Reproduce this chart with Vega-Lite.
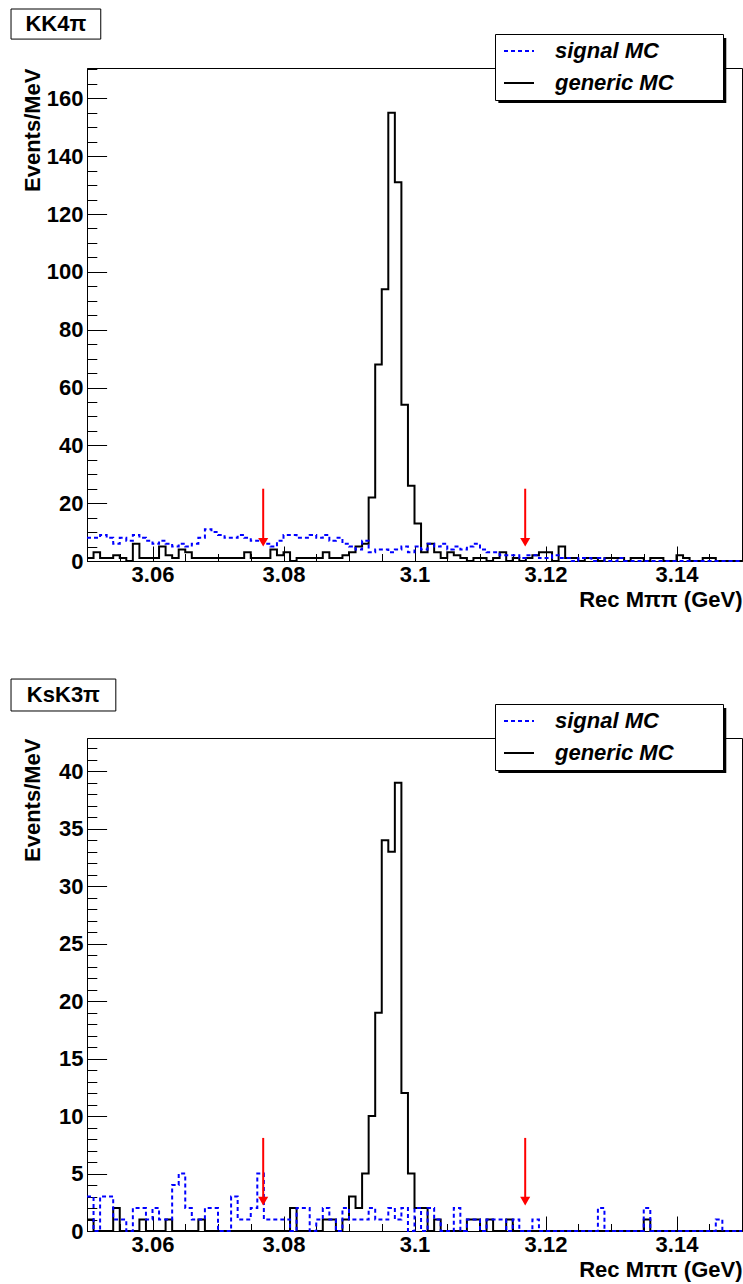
{
"$schema": "https://vega.github.io/schema/vega-lite/v6.json",
"background": "white",
"padding": {"left": 10, "top": 8, "right": 2, "bottom": 2},
"bounds": "flush",
"spacing": 177,
"config": {
  "font": "Liberation Sans",
  "view": {"stroke": "black", "strokeWidth": 1},
  "axis": {"grid": false, "labelColor": "black", "titleColor": "black", "tickColor": "black", "domainColor": "black", "domainWidth": 1, "tickWidth": 1, "labelFont": "Liberation Sans", "labelFontWeight": "bold", "labelFontSize": 22, "titleFont": "Liberation Sans", "titleFontWeight": "bold", "titleFontSize": 22, "labelFlush": false, "labelOverlap": false},
  "legend": {"orient": "none", "legendX": 408, "legendY": -34, "titleOrient": "right", "titleColor": "white", "titleFontSize": 22, "titleFont": "Liberation Sans", "titleFontWeight": "bold", "titlePadding": 6, "strokeColor": "black", "fillColor": "white", "padding": 6, "symbolOffset": 2, "symbolType": "stroke", "symbolSize": 900, "symbolStrokeWidth": 2, "labelFont": "Liberation Sans", "labelFontSize": 22, "labelFontStyle": "italic", "labelFontWeight": "bold", "labelColor": "black", "labelOffset": 20, "rowPadding": 10, "clipHeight": 22, "labelLimit": 400}
},
"resolve": {"scale": {"stroke": "independent", "strokeDash": "independent"}, "legend": {"stroke": "independent", "strokeDash": "independent"}},
"datasets": {
"topGen": [{"m":3.05,"n":1},{"m":3.051,"n":3},{"m":3.052,"n":1},{"m":3.053,"n":1},{"m":3.054,"n":2},{"m":3.055,"n":1},{"m":3.056,"n":0},{"m":3.057,"n":6},{"m":3.058,"n":1},{"m":3.059,"n":1},
{"m":3.06,"n":1},{"m":3.061,"n":5},{"m":3.062,"n":2},{"m":3.063,"n":1},{"m":3.064,"n":4},{"m":3.065,"n":3},{"m":3.066,"n":1},{"m":3.067,"n":1},{"m":3.068,"n":1},{"m":3.069,"n":1},
{"m":3.07,"n":1},{"m":3.071,"n":1},{"m":3.072,"n":1},{"m":3.073,"n":1},{"m":3.074,"n":3},{"m":3.075,"n":1},{"m":3.076,"n":1},{"m":3.077,"n":1},{"m":3.078,"n":4},{"m":3.079,"n":2},
{"m":3.08,"n":3},{"m":3.081,"n":0},{"m":3.082,"n":1},{"m":3.083,"n":1},{"m":3.084,"n":1},{"m":3.085,"n":1},{"m":3.086,"n":3},{"m":3.087,"n":1},{"m":3.088,"n":1},{"m":3.089,"n":2},
{"m":3.09,"n":3},{"m":3.091,"n":5},{"m":3.092,"n":6},{"m":3.093,"n":22},{"m":3.094,"n":68},{"m":3.095,"n":94},{"m":3.096,"n":155},{"m":3.097,"n":131},{"m":3.098,"n":54},{"m":3.099,"n":26},
{"m":3.1,"n":13},{"m":3.101,"n":3},{"m":3.102,"n":6},{"m":3.103,"n":3},{"m":3.104,"n":1},{"m":3.105,"n":3},{"m":3.106,"n":2},{"m":3.107,"n":1},{"m":3.108,"n":0},{"m":3.109,"n":1},
{"m":3.11,"n":1},{"m":3.111,"n":0},{"m":3.112,"n":1},{"m":3.113,"n":3},{"m":3.114,"n":0},{"m":3.115,"n":1},{"m":3.116,"n":0},{"m":3.117,"n":1},{"m":3.118,"n":2},{"m":3.119,"n":3},
{"m":3.12,"n":3},{"m":3.121,"n":0},{"m":3.122,"n":5},{"m":3.123,"n":1},{"m":3.124,"n":1},{"m":3.125,"n":0},{"m":3.126,"n":1},{"m":3.127,"n":1},{"m":3.128,"n":0},{"m":3.129,"n":1},
{"m":3.13,"n":1},{"m":3.131,"n":1},{"m":3.132,"n":0},{"m":3.133,"n":1},{"m":3.134,"n":1},{"m":3.135,"n":0},{"m":3.136,"n":1},{"m":3.137,"n":1},{"m":3.138,"n":0},{"m":3.139,"n":0},
{"m":3.14,"n":2},{"m":3.141,"n":1},{"m":3.142,"n":0},{"m":3.143,"n":0},{"m":3.144,"n":1},{"m":3.145,"n":1},{"m":3.146,"n":0},{"m":3.147,"n":0},{"m":3.148,"n":0},{"m":3.149,"n":0},{"m":3.15,"n":0}],
"topSig": [{"m":3.05,"n":8},{"m":3.051,"n":8},{"m":3.052,"n":9},{"m":3.053,"n":8},{"m":3.054,"n":6},{"m":3.055,"n":8},{"m":3.056,"n":7},{"m":3.057,"n":9},{"m":3.058,"n":8},{"m":3.059,"n":7},
{"m":3.06,"n":6},{"m":3.061,"n":7},{"m":3.062,"n":6},{"m":3.063,"n":5},{"m":3.064,"n":6},{"m":3.065,"n":5},{"m":3.066,"n":6},{"m":3.067,"n":8},{"m":3.068,"n":11},{"m":3.069,"n":10},
{"m":3.07,"n":9},{"m":3.071,"n":8},{"m":3.072,"n":8},{"m":3.073,"n":9},{"m":3.074,"n":8},{"m":3.075,"n":7},{"m":3.076,"n":7},{"m":3.077,"n":6},{"m":3.078,"n":5},{"m":3.079,"n":7},
{"m":3.08,"n":9},{"m":3.081,"n":9},{"m":3.082,"n":8},{"m":3.083,"n":8},{"m":3.084,"n":9},{"m":3.085,"n":8},{"m":3.086,"n":9},{"m":3.087,"n":7},{"m":3.088,"n":8},{"m":3.089,"n":6},
{"m":3.09,"n":5},{"m":3.091,"n":4},{"m":3.092,"n":7},{"m":3.093,"n":3},{"m":3.094,"n":4},{"m":3.095,"n":4},{"m":3.096,"n":3},{"m":3.097,"n":4},{"m":3.098,"n":5},{"m":3.099,"n":3},
{"m":3.1,"n":5},{"m":3.101,"n":4},{"m":3.102,"n":6},{"m":3.103,"n":5},{"m":3.104,"n":6},{"m":3.105,"n":4},{"m":3.106,"n":5},{"m":3.107,"n":4},{"m":3.108,"n":5},{"m":3.109,"n":6},
{"m":3.11,"n":4},{"m":3.111,"n":3},{"m":3.112,"n":3},{"m":3.113,"n":2},{"m":3.114,"n":2},{"m":3.115,"n":2},{"m":3.116,"n":1},{"m":3.117,"n":2},{"m":3.118,"n":2},{"m":3.119,"n":1},
{"m":3.12,"n":1},{"m":3.121,"n":2},{"m":3.122,"n":1},{"m":3.123,"n":1},{"m":3.124,"n":0},{"m":3.125,"n":1},{"m":3.126,"n":1},{"m":3.127,"n":0},{"m":3.128,"n":1},{"m":3.129,"n":0},
{"m":3.13,"n":0},{"m":3.131,"n":1},{"m":3.132,"n":0},{"m":3.133,"n":0},{"m":3.134,"n":0},{"m":3.135,"n":0},{"m":3.136,"n":0},{"m":3.137,"n":0},{"m":3.138,"n":0},{"m":3.139,"n":0},
{"m":3.14,"n":0},{"m":3.141,"n":0},{"m":3.142,"n":0},{"m":3.143,"n":0},{"m":3.144,"n":0},{"m":3.145,"n":0},{"m":3.146,"n":0},{"m":3.147,"n":0},{"m":3.148,"n":0},{"m":3.149,"n":0},{"m":3.15,"n":0}],
"botGen": [{"m":3.05,"n":1},{"m":3.051,"n":0},{"m":3.052,"n":0},{"m":3.053,"n":0},{"m":3.054,"n":2},{"m":3.055,"n":0},{"m":3.056,"n":0},{"m":3.057,"n":0},{"m":3.058,"n":1},{"m":3.059,"n":0},
{"m":3.06,"n":0},{"m":3.061,"n":0},{"m":3.062,"n":1},{"m":3.063,"n":0},{"m":3.064,"n":0},{"m":3.065,"n":0},{"m":3.066,"n":0},{"m":3.067,"n":1},{"m":3.068,"n":0},{"m":3.069,"n":0},
{"m":3.07,"n":0},{"m":3.071,"n":0},{"m":3.072,"n":0},{"m":3.073,"n":0},{"m":3.074,"n":0},{"m":3.075,"n":0},{"m":3.076,"n":0},{"m":3.077,"n":0},{"m":3.078,"n":0},{"m":3.079,"n":0},
{"m":3.08,"n":0},{"m":3.081,"n":2},{"m":3.082,"n":0},{"m":3.083,"n":0},{"m":3.084,"n":0},{"m":3.085,"n":0},{"m":3.086,"n":1},{"m":3.087,"n":1},{"m":3.088,"n":0},{"m":3.089,"n":1},
{"m":3.09,"n":3},{"m":3.091,"n":2},{"m":3.092,"n":5},{"m":3.093,"n":10},{"m":3.094,"n":19},{"m":3.095,"n":34},{"m":3.096,"n":33},{"m":3.097,"n":39},{"m":3.098,"n":12},{"m":3.099,"n":5},
{"m":3.1,"n":2},{"m":3.101,"n":2},{"m":3.102,"n":0},{"m":3.103,"n":1},{"m":3.104,"n":0},{"m":3.105,"n":0},{"m":3.106,"n":0},{"m":3.107,"n":0},{"m":3.108,"n":1},{"m":3.109,"n":1},
{"m":3.11,"n":0},{"m":3.111,"n":1},{"m":3.112,"n":0},{"m":3.113,"n":0},{"m":3.114,"n":1},{"m":3.115,"n":0},{"m":3.116,"n":0},{"m":3.117,"n":0},{"m":3.118,"n":0},{"m":3.119,"n":0},
{"m":3.12,"n":0},{"m":3.121,"n":0},{"m":3.122,"n":0},{"m":3.123,"n":0},{"m":3.124,"n":0},{"m":3.125,"n":0},{"m":3.126,"n":0},{"m":3.127,"n":0},{"m":3.128,"n":0},{"m":3.129,"n":0},
{"m":3.13,"n":0},{"m":3.131,"n":0},{"m":3.132,"n":0},{"m":3.133,"n":0},{"m":3.134,"n":0},{"m":3.135,"n":1},{"m":3.136,"n":0},{"m":3.137,"n":0},{"m":3.138,"n":0},{"m":3.139,"n":0},
{"m":3.14,"n":0},{"m":3.141,"n":0},{"m":3.142,"n":0},{"m":3.143,"n":0},{"m":3.144,"n":0},{"m":3.145,"n":0},{"m":3.146,"n":0},{"m":3.147,"n":0},{"m":3.148,"n":0},{"m":3.149,"n":0},{"m":3.15,"n":0}],
"botSig": [{"m":3.05,"n":3},{"m":3.051,"n":0},{"m":3.052,"n":3},{"m":3.053,"n":3},{"m":3.054,"n":1},{"m":3.055,"n":1},{"m":3.056,"n":0},{"m":3.057,"n":2},{"m":3.058,"n":2},{"m":3.059,"n":1},
{"m":3.06,"n":2},{"m":3.061,"n":1},{"m":3.062,"n":1},{"m":3.063,"n":4},{"m":3.064,"n":5},{"m":3.065,"n":2},{"m":3.066,"n":1},{"m":3.067,"n":1},{"m":3.068,"n":2},{"m":3.069,"n":2},
{"m":3.07,"n":0},{"m":3.071,"n":0},{"m":3.072,"n":3},{"m":3.073,"n":1},{"m":3.074,"n":1},{"m":3.075,"n":2},{"m":3.076,"n":5},{"m":3.077,"n":1},{"m":3.078,"n":1},{"m":3.079,"n":1},
{"m":3.08,"n":1},{"m":3.081,"n":0},{"m":3.082,"n":2},{"m":3.083,"n":2},{"m":3.084,"n":0},{"m":3.085,"n":1},{"m":3.086,"n":2},{"m":3.087,"n":1},{"m":3.088,"n":0},{"m":3.089,"n":2},
{"m":3.09,"n":1},{"m":3.091,"n":1},{"m":3.092,"n":1},{"m":3.093,"n":2},{"m":3.094,"n":1},{"m":3.095,"n":1},{"m":3.096,"n":2},{"m":3.097,"n":1},{"m":3.098,"n":2},{"m":3.099,"n":0},
{"m":3.1,"n":2},{"m":3.101,"n":0},{"m":3.102,"n":2},{"m":3.103,"n":1},{"m":3.104,"n":0},{"m":3.105,"n":0},{"m":3.106,"n":2},{"m":3.107,"n":0},{"m":3.108,"n":1},{"m":3.109,"n":1},
{"m":3.11,"n":0},{"m":3.111,"n":1},{"m":3.112,"n":1},{"m":3.113,"n":1},{"m":3.114,"n":0},{"m":3.115,"n":1},{"m":3.116,"n":0},{"m":3.117,"n":0},{"m":3.118,"n":1},{"m":3.119,"n":0},
{"m":3.12,"n":0},{"m":3.121,"n":0},{"m":3.122,"n":0},{"m":3.123,"n":0},{"m":3.124,"n":0},{"m":3.125,"n":0},{"m":3.126,"n":0},{"m":3.127,"n":0},{"m":3.128,"n":2},{"m":3.129,"n":0},
{"m":3.13,"n":0},{"m":3.131,"n":0},{"m":3.132,"n":0},{"m":3.133,"n":0},{"m":3.134,"n":0},{"m":3.135,"n":2},{"m":3.136,"n":0},{"m":3.137,"n":0},{"m":3.138,"n":0},{"m":3.139,"n":0},
{"m":3.14,"n":0},{"m":3.141,"n":0},{"m":3.142,"n":0},{"m":3.143,"n":0},{"m":3.144,"n":0},{"m":3.145,"n":0},{"m":3.146,"n":1},{"m":3.147,"n":0},{"m":3.148,"n":0},{"m":3.149,"n":0},{"m":3.15,"n":0}],
"topCut": [{"m":3.0769,"from":25,"to":6.5},{"m":3.1169,"from":25,"to":6.5}],
"botCut": [{"m":3.0769,"from":8.1,"to":2.6},{"m":3.1169,"from":8.1,"to":2.6}]
},
"vconcat": [
{
 "width": 655, "height": 493,
 "resolve": {"axis": {"x": "independent", "y": "independent"}},
 "layer": [
  {"data": {"values": [{"label": "shadow"}]},
   "mark": {"type": "rect", "fill": "black", "stroke": null},
   "encoding": {
    "x": {"datum": 3.1128, "type": "quantitative", "scale": {"domain": [3.05, 3.15], "nice": false, "zero": false}, "axis": null},
    "x2": {"datum": 3.1476},
    "y": {"datum": 180.9, "type": "quantitative", "scale": {"domain": [0, 170.5], "nice": false, "zero": true}, "axis": null},
    "y2": {"datum": 158.4}
   }},
  {"data": {"name": "topGen"},
   "mark": {"type": "line", "interpolate": "step-after", "strokeWidth": 2},
   "encoding": {
    "x": {"field": "m", "type": "quantitative", "scale": {"domain": [3.05, 3.15], "nice": false, "zero": false},
          "axis": {"values": [3.06, 3.08, 3.1, 3.12, 3.14], "format": ".2~f", "tickSize": -15, "labelPadding": 18, "title": "Rec Mππ (GeV)", "titleAnchor": "end", "titlePadding": 4}},
    "y": {"field": "n", "type": "quantitative", "scale": {"domain": [0, 170.5], "nice": false, "zero": true},
          "axis": {"values": [0, 20, 40, 60, 80, 100, 120, 140, 160], "format": "d", "tickSize": -19.6, "labelPadding": 23.6, "title": "Events/MeV", "titleAnchor": "end", "titlePadding": 2}},
    "stroke": {"datum": "generic MC", "type": "nominal", "scale": {"domain": ["signal MC", "generic MC"], "range": ["#0000ff", "#000000"]},
               "legend": {"title": "MM", "titleOrient": "right", "titleColor": "white"}},
    "strokeDash": {"datum": "generic MC", "type": "nominal", "scale": {"domain": ["signal MC", "generic MC"], "range": [[4, 3], [1, 0]]},
               "legend": {"title": "MM", "titleOrient": "right", "titleColor": "white"}}
   }},
  {"data": {"name": "topSig"},
   "mark": {"type": "line", "interpolate": "step-after", "strokeWidth": 2},
   "encoding": {
    "x": {"field": "m", "type": "quantitative", "scale": {"domain": [3.05, 3.15], "nice": false, "zero": false},
          "axis": {"orient": "bottom", "values": [3.05, 3.055, 3.065, 3.07, 3.075, 3.085, 3.09, 3.095, 3.105, 3.11, 3.115, 3.125, 3.13, 3.135, 3.145, 3.15], "tickSize": -7.5, "labels": false, "domain": false, "title": null}},
    "y": {"field": "n", "type": "quantitative", "scale": {"domain": [0, 170.5], "nice": false, "zero": true},
          "axis": {"orient": "left", "values": [5, 10, 15, 25, 30, 35, 45, 50, 55, 65, 70, 75, 85, 90, 95, 105, 110, 115, 125, 130, 135, 145, 150, 155, 165, 170], "tickSize": -9.8, "labels": false, "domain": false, "title": null}},
    "stroke": {"datum": "signal MC", "type": "nominal", "legend": {"title": "MM", "titleOrient": "right", "titleColor": "white"}},
    "strokeDash": {"datum": "signal MC", "type": "nominal", "legend": {"title": "MM", "titleOrient": "right", "titleColor": "white"}}
   }},
  {"data": {"name": "topCut"},
   "mark": {"type": "rule", "color": "#ff0000", "strokeWidth": 2},
   "encoding": {
    "x": {"field": "m", "type": "quantitative", "axis": null},
    "y": {"field": "from", "type": "quantitative", "axis": null},
    "y2": {"field": "to"}
   }},
  {"data": {"name": "topCut"},
   "mark": {"type": "point", "shape": "triangle-down", "filled": true, "color": "#ff0000", "size": 100, "opacity": 1},
   "encoding": {
    "x": {"field": "m", "type": "quantitative", "axis": null},
    "y": {"field": "to", "type": "quantitative", "axis": null}
   }},
  {"data": {"values": [{"label": "KK4π"}]},
   "mark": {"type": "rect", "fill": "white", "stroke": "black", "strokeWidth": 1},
   "encoding": {
    "x": {"datum": 3.0384, "type": "quantitative", "axis": null},
    "x2": {"datum": 3.0521},
    "y": {"datum": 190.9, "type": "quantitative", "axis": null},
    "y2": {"datum": 180.5}
   }},
  {"data": {"values": [{"label": "KK4π"}]},
   "mark": {"type": "text", "font": "Liberation Sans", "fontWeight": "bold", "fontSize": 22, "color": "black", "align": "center", "baseline": "middle"},
   "encoding": {
    "x": {"datum": 3.04525, "type": "quantitative", "axis": null},
    "y": {"datum": 185.7, "type": "quantitative", "axis": null},
    "text": {"field": "label"}
   }}
 ]
},
{
 "width": 655, "height": 493,
 "resolve": {"axis": {"x": "independent", "y": "independent"}},
 "layer": [
  {"data": {"values": [{"label": "shadow"}]},
   "mark": {"type": "rect", "fill": "black", "stroke": null},
   "encoding": {
    "x": {"datum": 3.1128, "type": "quantitative", "scale": {"domain": [3.05, 3.15], "nice": false, "zero": false}, "axis": null},
    "x2": {"datum": 3.1476},
    "y": {"datum": 45.51, "type": "quantitative", "scale": {"domain": [0, 42.9], "nice": false, "zero": true}, "axis": null},
    "y2": {"datum": 39.85}
   }},
  {"data": {"name": "botGen"},
   "mark": {"type": "line", "interpolate": "step-after", "strokeWidth": 2},
   "encoding": {
    "x": {"field": "m", "type": "quantitative", "scale": {"domain": [3.05, 3.15], "nice": false, "zero": false},
          "axis": {"values": [3.06, 3.08, 3.1, 3.12, 3.14], "format": ".2~f", "tickSize": -15, "labelPadding": 18, "title": "Rec Mππ (GeV)", "titleAnchor": "end", "titlePadding": 4}},
    "y": {"field": "n", "type": "quantitative", "scale": {"domain": [0, 42.9], "nice": false, "zero": true},
          "axis": {"values": [0, 5, 10, 15, 20, 25, 30, 35, 40], "format": "d", "tickSize": -19.6, "labelPadding": 23.6, "title": "Events/MeV", "titleAnchor": "end", "titlePadding": 14}},
    "stroke": {"datum": "generic MC", "type": "nominal", "scale": {"domain": ["signal MC", "generic MC"], "range": ["#0000ff", "#000000"]},
               "legend": {"title": "MM", "titleOrient": "right", "titleColor": "white"}},
    "strokeDash": {"datum": "generic MC", "type": "nominal", "scale": {"domain": ["signal MC", "generic MC"], "range": [[4, 3], [1, 0]]},
               "legend": {"title": "MM", "titleOrient": "right", "titleColor": "white"}}
   }},
  {"data": {"name": "botSig"},
   "mark": {"type": "line", "interpolate": "step-after", "strokeWidth": 2},
   "encoding": {
    "x": {"field": "m", "type": "quantitative", "scale": {"domain": [3.05, 3.15], "nice": false, "zero": false},
          "axis": {"orient": "bottom", "values": [3.05, 3.055, 3.065, 3.07, 3.075, 3.085, 3.09, 3.095, 3.105, 3.11, 3.115, 3.125, 3.13, 3.135, 3.145, 3.15], "tickSize": -7.5, "labels": false, "domain": false, "title": null}},
    "y": {"field": "n", "type": "quantitative", "scale": {"domain": [0, 42.9], "nice": false, "zero": true},
          "axis": {"orient": "left", "values": [1, 2, 3, 4, 6, 7, 8, 9, 11, 12, 13, 14, 16, 17, 18, 19, 21, 22, 23, 24, 26, 27, 28, 29, 31, 32, 33, 34, 36, 37, 38, 39, 41, 42], "tickSize": -9.8, "labels": false, "domain": false, "title": null}},
    "stroke": {"datum": "signal MC", "type": "nominal", "legend": {"title": "MM", "titleOrient": "right", "titleColor": "white"}},
    "strokeDash": {"datum": "signal MC", "type": "nominal", "legend": {"title": "MM", "titleOrient": "right", "titleColor": "white"}}
   }},
  {"data": {"name": "botCut"},
   "mark": {"type": "rule", "color": "#ff0000", "strokeWidth": 2},
   "encoding": {
    "x": {"field": "m", "type": "quantitative", "axis": null},
    "y": {"field": "from", "type": "quantitative", "axis": null},
    "y2": {"field": "to"}
   }},
  {"data": {"name": "botCut"},
   "mark": {"type": "point", "shape": "triangle-down", "filled": true, "color": "#ff0000", "size": 100, "opacity": 1},
   "encoding": {
    "x": {"field": "m", "type": "quantitative", "axis": null},
    "y": {"field": "to", "type": "quantitative", "axis": null}
   }},
  {"data": {"values": [{"label": "KsK3π"}]},
   "mark": {"type": "rect", "fill": "white", "stroke": "black", "strokeWidth": 1},
   "encoding": {
    "x": {"datum": 3.0384, "type": "quantitative", "axis": null},
    "x2": {"datum": 3.0544},
    "y": {"datum": 48.03, "type": "quantitative", "axis": null},
    "y2": {"datum": 45.25}
   }},
  {"data": {"values": [{"label": "KsK3π"}]},
   "mark": {"type": "text", "font": "Liberation Sans", "fontWeight": "bold", "fontSize": 22, "color": "black", "align": "center", "baseline": "middle"},
   "encoding": {
    "x": {"datum": 3.0464, "type": "quantitative", "axis": null},
    "y": {"datum": 46.64, "type": "quantitative", "axis": null},
    "text": {"field": "label"}
   }}
 ]
}
]
}
